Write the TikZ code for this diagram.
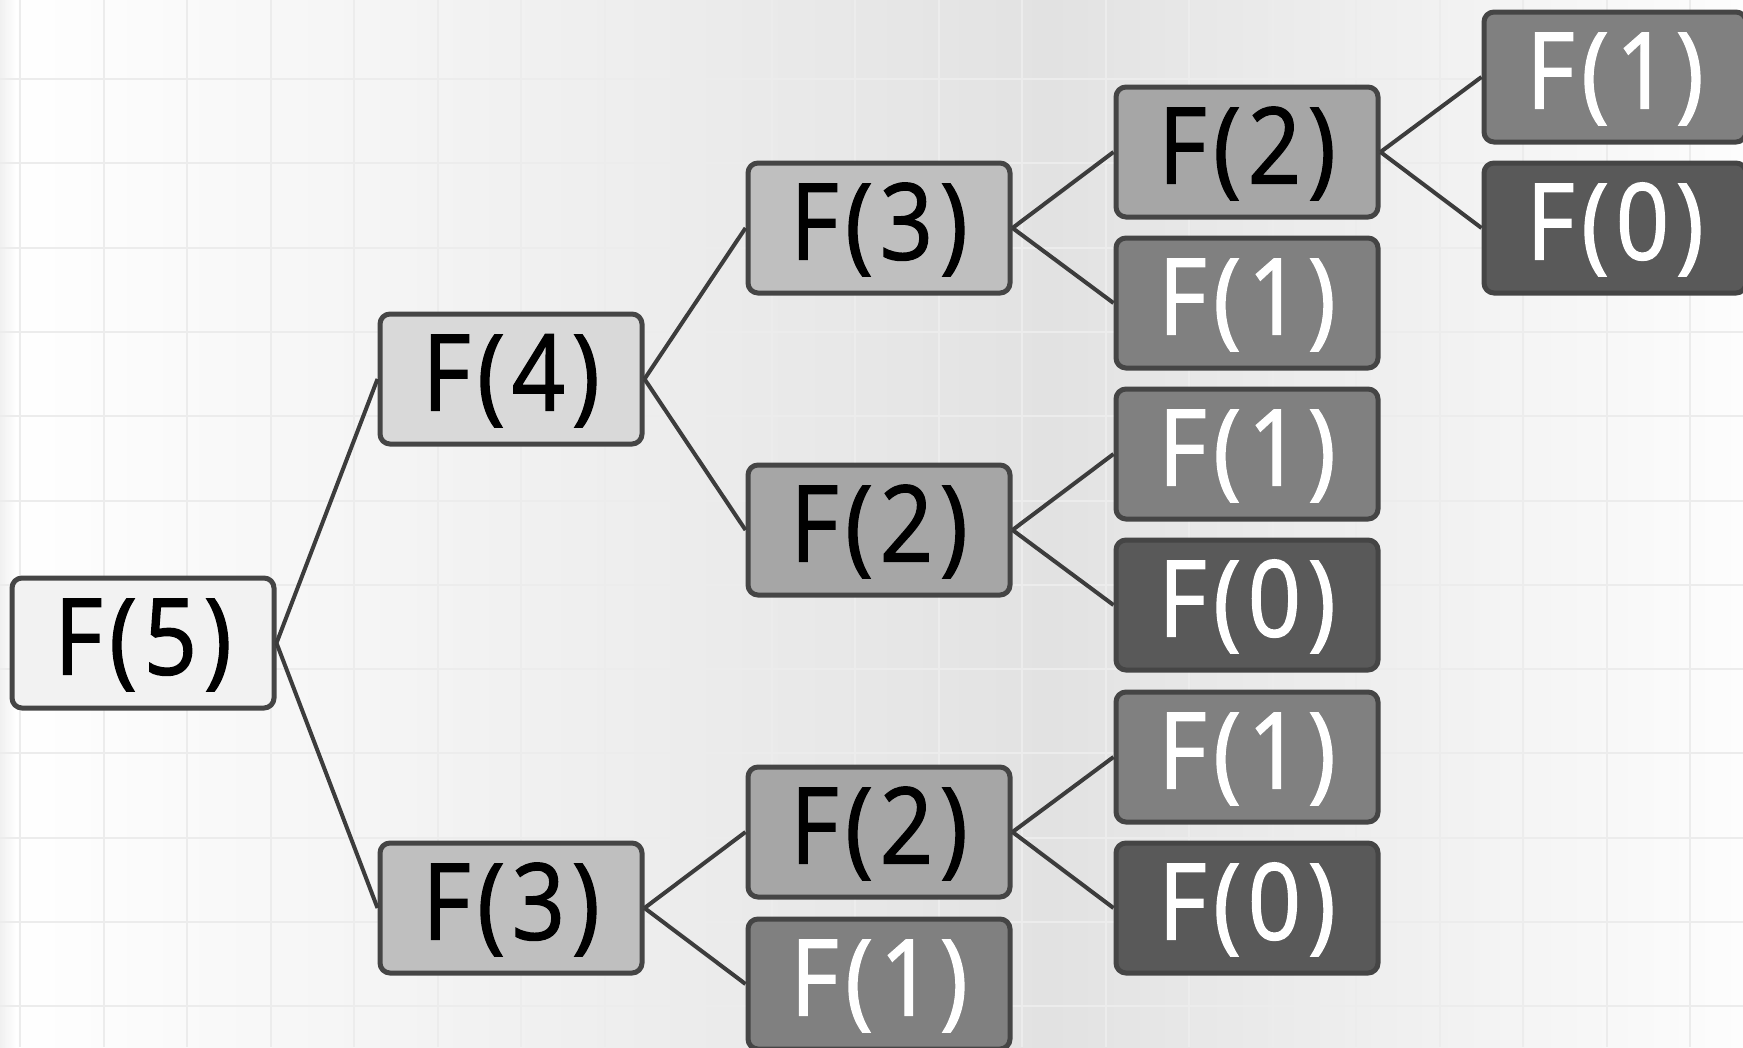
\documentclass[tikz,border=0pt]{standalone}
\usepackage{fontspec}
\setmainfont{Open Sans}
\newfontfamily\nodefont{Open Sans}[FakeBold=1.3, FakeStretch=0.88, LetterSpace=6.5]
\definecolor{bgmid}{HTML}{E2E2E2}
\definecolor{bgright}{HTML}{FDFDFD}
\definecolor{bgedge}{HTML}{EDEDED}
\definecolor{gridc}{HTML}{ECECEC}
\definecolor{borderc}{HTML}{454545}
\definecolor{edgec}{HTML}{3C3C3C}
\definecolor{cfive}{HTML}{F2F2F2}
\definecolor{cfour}{HTML}{D9D9D9}
\definecolor{cthree}{HTML}{BFBFBF}
\definecolor{ctwo}{HTML}{A6A6A6}
\definecolor{cone}{HTML}{808080}
\definecolor{czero}{HTML}{595959}
\pgfdeclarehorizontalshading{bgshade}{100bp}{color(0bp)=(white); color(25bp)=(white); color(55.1bp)=(bgmid); color(75bp)=(bgright); color(100bp)=(bgright)}
\begin{document}
\begin{tikzpicture}[x=1pt,y=-1pt,
  nd/.style={draw=borderc, line width=5pt, rounded corners=10pt,
    minimum width=262pt, minimum height=130pt, inner sep=0pt,
    text height=76pt, text depth=13pt,
    font=\nodefont\fontsize{106}{106}\selectfont},
  lvfive/.style={nd, fill=cfive, text=black},
  lvfour/.style={nd, fill=cfour, text=black},
  lvthree/.style={nd, fill=cthree, text=black},
  lvtwo/.style={nd, fill=ctwo, text=black},
  lvone/.style={nd, fill=cone, text=white},
  lvzero/.style={nd, fill=czero, text=white},
  edge/.style={draw=edgec, line width=4pt}
]
\useasboundingbox (0,0) rectangle (1743,1047);
\shade[shading=bgshade] (0,0) rectangle (1743,1047);
\shade[left color=bgedge, right color=white, opacity=0.8] (0,0) rectangle (16,1047);
\foreach \k in {0,...,20} {
  \draw[gridc, line width=2pt] ({20+83.5*\k},0) -- ({20+83.5*\k},1047);
}
\foreach \k in {0,...,11} {
  \draw[gridc, line width=2pt] (0,{79+84.3*\k}) -- (1743,{79+84.3*\k});
}

\node[lvfive]  (a5)  at (143,643) {F(5)};
\node[lvfour]  (a4)  at (511,379) {F(4)};
\node[lvthree] (b3)  at (511,908) {F(3)};
\node[lvthree] (c3)  at (879,228) {F(3)};
\node[lvtwo]   (c2)  at (879,530) {F(2)};
\node[lvtwo]   (d2)  at (879,832) {F(2)};
\node[lvone]   (d1)  at (879,984) {F(1)};
\node[lvtwo]   (e2)  at (1247,152) {F(2)};
\node[lvone]   (e1a) at (1247,303) {F(1)};
\node[lvone]   (e1b) at (1247,454) {F(1)};
\node[lvzero]  (e0b) at (1247,605) {F(0)};
\node[lvone]   (e1c) at (1247,757) {F(1)};
\node[lvzero]  (e0c) at (1247,908) {F(0)};
\node[lvone]   (f1)  at (1615,77) {F(1)};
\node[lvzero]  (f0)  at (1615,228) {F(0)};

\draw[edge] (a5.east) -- (a4.west);
\draw[edge] (a5.east) -- (b3.west);
\draw[edge] (a4.east) -- (c3.west);
\draw[edge] (a4.east) -- (c2.west);
\draw[edge] (c3.east) -- (e2.west);
\draw[edge] (c3.east) -- (e1a.west);
\draw[edge] (c2.east) -- (e1b.west);
\draw[edge] (c2.east) -- (e0b.west);
\draw[edge] (b3.east) -- (d2.west);
\draw[edge] (b3.east) -- (d1.west);
\draw[edge] (d2.east) -- (e1c.west);
\draw[edge] (d2.east) -- (e0c.west);
\draw[edge] (e2.east) -- (f1.west);
\draw[edge] (e2.east) -- (f0.west);
\end{tikzpicture}
\end{document}
